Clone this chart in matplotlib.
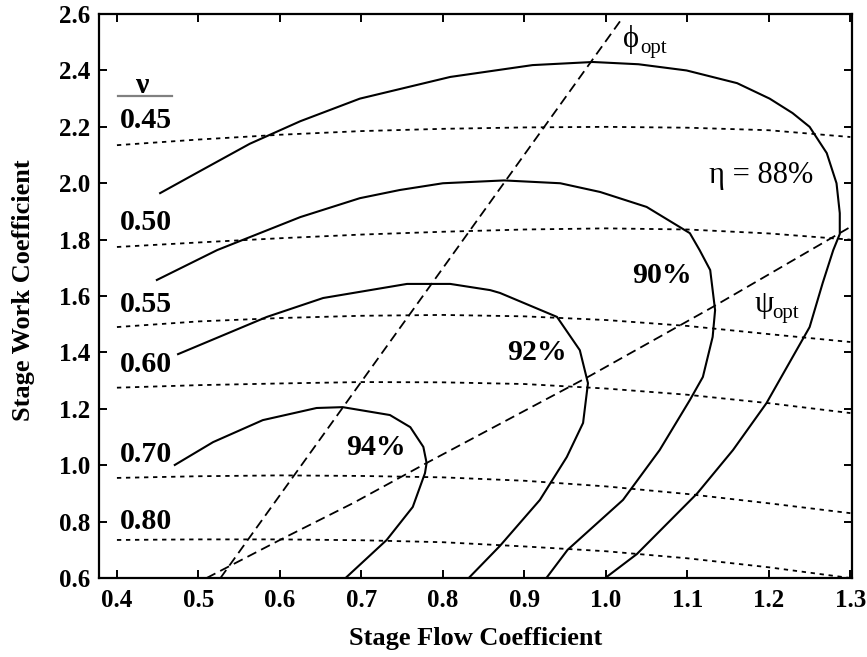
import numpy as np
import matplotlib
matplotlib.use('Agg')
import matplotlib.pyplot as plt
from matplotlib.ticker import MultipleLocator, FormatStrFormatter

plt.rcParams['font.family'] = ['Liberation Serif', 'DejaVu Serif']

# ─── Data ────────────────────────────────────────────────────────────────────

# efficiency contours, solid
eta88_x = [0.453, 0.50, 0.563, 0.625, 0.698, 0.809, 0.910, 0.984, 1.04, 1.099, 1.161,
           1.201, 1.229, 1.25, 1.271, 1.283, 1.287, 1.287, 1.279, 1.266, 1.25, 1.197,
           1.156, 1.112, 1.038, 1.001]
eta88_y = [1.965, 2.04, 2.14, 2.22, 2.30, 2.377, 2.419, 2.43, 2.422, 2.40, 2.355,
           2.30, 2.249, 2.20, 2.107, 2.0, 1.894, 1.82, 1.763, 1.646, 1.49, 1.22,
           1.054, 0.90, 0.685, 0.604]

eta90_x = [0.449, 0.523, 0.625, 0.698, 0.747, 0.80, 0.875, 0.944, 0.993, 1.05, 1.103,
           1.115, 1.128, 1.134, 1.131, 1.119, 1.103, 1.066, 1.021, 0.953, 0.928]
eta90_y = [1.657, 1.763, 1.88, 1.947, 1.976, 2.0, 2.01, 2.0, 1.969, 1.916, 1.823,
           1.763, 1.692, 1.55, 1.455, 1.313, 1.231, 1.054, 0.877, 0.70, 0.604]

eta92_x = [0.475, 0.584, 0.653, 0.756, 0.809, 0.858, 0.870, 0.940, 0.968, 0.978,
           0.972, 0.952, 0.919, 0.870, 0.833]
eta92_y = [1.394, 1.526, 1.593, 1.643, 1.643, 1.621, 1.611, 1.526, 1.408, 1.291,
           1.15, 1.029, 0.877, 0.714, 0.604]

eta94_x = [0.471, 0.518, 0.579, 0.645, 0.677, 0.735, 0.760, 0.776, 0.780, 0.778,
           0.763, 0.731, 0.682]
eta94_y = [1.001, 1.082, 1.160, 1.203, 1.206, 1.178, 1.135, 1.065, 1.008, 0.972,
           0.852, 0.735, 0.604]

# nu lines, dotted
nu_x = [0.40, 0.5, 0.6, 0.7, 0.8, 0.9, 1.0, 1.1, 1.2, 1.3]
nu045 = [2.135, 2.155, 2.172, 2.185, 2.193, 2.198, 2.200, 2.197, 2.188, 2.164]
nu050 = [1.774, 1.790, 1.805, 1.818, 1.828, 1.836, 1.840, 1.836, 1.822, 1.800]
nu055 = [1.490, 1.510, 1.522, 1.530, 1.533, 1.528, 1.515, 1.494, 1.465, 1.437]
nu060 = [1.275, 1.284, 1.290, 1.295, 1.294, 1.288, 1.272, 1.250, 1.220, 1.185]
nu070 = [0.955, 0.961, 0.964, 0.962, 0.957, 0.945, 0.925, 0.898, 0.865, 0.830]
nu080 = [0.735, 0.737, 0.737, 0.734, 0.727, 0.712, 0.695, 0.670, 0.638, 0.600]
nu_labels = ['0.45', '0.50', '0.55', '0.60', '0.70', '0.80']
nu_label_y = [2.196, 1.834, 1.543, 1.330, 1.011, 0.774]

# optimum lines, dashed
phi_x = [0.527, 1.020]
phi_y = [0.600, 2.585]
psi_x = [0.51, 0.60, 0.69, 0.78, 0.978, 1.131, 1.30]
psi_y = [0.60, 0.735, 0.866, 1.008, 1.313, 1.561, 1.845]

eta_labels = ['94%', '92%', '90%']
eta_label_x = [0.718, 0.915, 1.069]
eta_label_y = [1.036, 1.373, 1.646]

# ─── Plot ────────────────────────────────────────────────────────────────────

fig = plt.figure(figsize=(8.67, 6.57), dpi=100, facecolor='white')
ax = fig.add_axes([0.1142, 0.1202, 0.8685, 0.8584])

solid = dict(color='black', lw=1.5, solid_joinstyle='round')
for xs, ys in [(eta88_x, eta88_y), (eta90_x, eta90_y),
               (eta92_x, eta92_y), (eta94_x, eta94_y)]:
    ax.plot(xs, ys, **solid)

for ys in [nu045, nu050, nu055, nu060, nu070, nu080]:
    ax.plot(nu_x, ys, color='black', lw=1.3, dashes=(2.4, 2.6))

ax.plot(phi_x, phi_y, color='black', lw=1.3, dashes=(5.5, 3.0))
ax.plot(psi_x, psi_y, color='black', lw=1.3, dashes=(5.5, 3.0))

# labels
lab = dict(fontsize=21.5, fontweight='bold', ha='center', va='baseline')
ax.text(0.431, 2.32, 'ν', **lab)
ax.plot([0.401, 0.467], [2.309, 2.309], color='#808080', lw=1.6)
for t, y in zip(nu_labels, nu_label_y):
    ax.text(0.436, y, t, **lab)
for t, x, y in zip(eta_labels, eta_label_x, eta_label_y):
    ax.text(x, y, t, **lab)
ax.text(1.190, 2.0, 'η = 88%', fontsize=22, ha='center', va='baseline')

# optimum line labels: symbol plus small "opt" subscript
for sym, x, y in [('ϕ', 1.021, 2.483), ('ψ', 1.183, 1.543)]:
    ax.text(x, y, sym, fontsize=22, ha='left', va='baseline')
    ax.annotate('opt', xy=(x, y), xytext=(12.5, -4), textcoords='offset points',
                fontsize=15, ha='left', va='baseline')

ax.set_xlim(0.378, 1.302)
ax.set_ylim(0.6, 2.6)
ax.xaxis.set_major_locator(MultipleLocator(0.1))
ax.yaxis.set_major_locator(MultipleLocator(0.2))
ax.xaxis.set_major_formatter(FormatStrFormatter('%.1f'))
ax.yaxis.set_major_formatter(FormatStrFormatter('%.1f'))
ax.tick_params(direction='in', top=True, right=True, length=6, width=1.4,
               labelsize=18)
ax.tick_params(axis='x', pad=8)
ax.tick_params(axis='y', pad=6)
for lbl in ax.get_xticklabels() + ax.get_yticklabels():
    lbl.set_fontweight('bold')
for spine in ax.spines.values():
    spine.set_linewidth(1.6)

ax.set_xlabel('Stage Flow Coefficient', fontsize=19, fontweight='bold')
ax.set_ylabel('Stage Work Coefficient', fontsize=19, fontweight='bold')
ax.xaxis.set_label_coords(0.5, -0.087)
ax.yaxis.set_label_coords(-0.085, 0.51)

fig.savefig('out.png', dpi=100, facecolor='white')
